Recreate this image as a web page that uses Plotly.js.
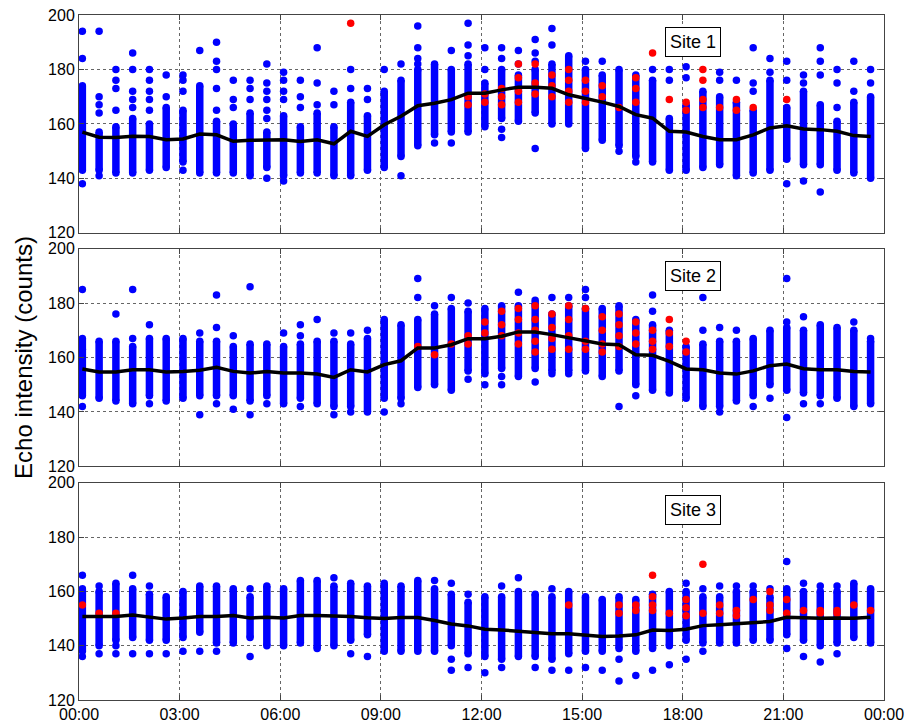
<!DOCTYPE html>
<html>
<head>
<meta charset="utf-8">
<script src="https://cdn.plot.ly/plotly-3.0.1.min.js"></script>
<style>
  html, body { margin: 0; padding: 0; background: #fff; }
  #chart { width: 908px; height: 725px; }
</style>
</head>
<body>
<div id="chart"></div>
<script>
// Half-hourly sample times (hours after midnight)
const colTimes = [0.1,0.6,1.1,1.6,2.1,2.6,3.1,3.6,4.1,4.6,5.1,5.6,6.1,6.6,7.1,7.6,
  8.1,8.6,9.1,9.6,10.1,10.6,11.1,11.6,12.1,12.6,13.1,13.6,14.1,14.6,15.1,15.6,
  16.1,16.6,17.1,17.6,18.1,18.6,19.1,19.6,20.1,20.6,21.1,21.6,22.1,22.6,23.1,23.6];

const xTickVals = [0,3,6,9,12,15,18,21,24];
const xTickText = ["00:00","03:00","06:00","09:00","12:00","15:00","18:00","21:00","00:00"];
const yTickVals = [120,140,160,180,200];
const siteNames = ["Site 1","Site 2","Site 3"];

// ---------- Site 1 ----------
const mean1 = [157,155.1,155,155.5,155.4,154.2,154.5,156.3,156,153.6,154,154,154.2,153.5,
  154.2,152.7,157.3,155.4,159.7,162.8,166.7,167.6,168.9,171.3,171.3,172.5,173.5,173.5,173.1,170.7,169.5,168,
  166.4,163.4,162.1,157.3,157,155.4,154.2,154.2,156,158.5,159.3,158.1,157.9,157.3,155.7,155.4];
const lo1 = [143,143,142,142,143,144,146,142,142,142,141,144,141,142,142,141,141,143,144,148,152,156,157,157,
  159,162,161,164,160,160,151,154,152,148,146,143,143,144,145,141,142,143,147,145,145,143,142,140];
const hi1 = [174,157,159,162,160,166,165,174,161,160,164,157,163,159,164,159,168,163,172,176,180,182,180,182,
  175,180,178,180,182,185,180,178,180,178,176,162,167,172,170,168,165,176,166,172,167,161,168,170];
const out1 = [[194,184,138],[194,170,167,164,141],[180,176,173,165],[186,180,172,169,166],[180,176,172,169,165],
  [178,170],[178,176,172,143],[187],[190,183,180,173,165],[176,169,166],[176,173,169],
  [182,175,172,169,165,162,140],[179,176,172,169,139],[176,170,166],[188,175,167],[172,167],[180,173],
  [173,169],[180],[182,141],[196,188,184,182],[153],[187,153],[197,189,185],[188,180],[188,184,158,155],
  [187,182],[191,186,183,151],[195,189],[],[183],[183],[150],[146],[180],[180,176],[181,177],[],[179,176],
  [176],[188,175,172],[184,179],[183,176,138],[178,175,139],[188,183,178,135],[180,175,166],[183,172],[180,175]];
const red1 = [[],[],[],[],[],[],[],[],[],[],[],[],[],[],[],[],[197],[],[],[],[],[],[],[170,167],[171,168],
  [173,170,167],[182,177,172,168],[182,175,171],[178,174,170],[180,176,172,168],[176,172,168],[174,170],
  [166],[177,173,168],[186],[169],[168,165],[180,176,169,166],[166],[169,165],[166],[],[169],[],[],[],[],[]];

// ---------- Site 2 ----------
const mean2 = [155.8,154.7,154.7,155.5,155.5,154.7,154.9,155.3,156.4,154.9,154.3,154.9,154.3,154.3,
  153.9,152.7,155.5,154.7,157.4,158.8,163.5,163.5,164.7,166.9,166.9,167.8,169.4,169.4,168.4,167.2,166.2,165,
  164.7,161,160.8,158.6,155.8,155.5,154.3,153.9,155.1,157,157.6,155.9,155.5,155.5,154.9,154.7];
const lo2 = [146,145,144,143,146,144,145,146,146,146,144,146,143,145,143,142,142,140,145,145,149,150,148,155,
  154,156,153,156,155,155,155,153,155,150,148,147,145,142,142,144,146,150,148,147,146,145,142,143];
const hi2 = [167,166,166,164,167,167,167,166,166,164,165,165,164,165,166,166,165,167,174,172,174,176,178,177,
  178,179,179,180,176,179,178,178,179,174,172,170,164,165,166,166,167,170,171,170,172,171,170,166];
const out2 = [[185,163,142],[],[176],[185,167],[172,143],[],[],[169,139],[183,171,143],[168,141],[186,139],[143],
  [169],[172,168,142],[174],[169,139],[169,140],[170],[140],[143],[189,182],[179],[182],[180,152],[150],
  [153,150],[184],[181,151],[182,154],[182,154],[185,182],[],[142],[146],[183,177],[],[],[182,170],[171,140],
  [170],[142],[145],[189,173,138],[175,143],[143],[],[173],[167]];
const red2 = [[],[],[],[],[],[],[],[],[],[],[],[],[],[],[],[],[],[],[],[],[164],[161],[165],[168,165],[173,169],
  [177,172,168],[178,174,169,165],[179,174,170,166,162],[176,171,167,163],[179,174,168,163],[178,166,163],
  [175,170,165,162],[176,172,168,164],[173,169,165],[170,166,163],[174,169,164],[166,162],
  [],[],[],[],[],[],[],[],[],[],[]];

// ---------- Site 3 ----------
const mean3 = [150.8,150.8,150.8,151.3,150.5,149.8,150.2,150.8,150.8,151.1,150.2,150.5,150.2,151.1,
  151.1,151.1,150.8,150.3,150,150.4,150.4,149.3,148,147.3,146.1,145.8,145.4,145,144.4,144.4,144,143.4,
  143.6,144,145.8,145.6,146.1,147.4,147.7,148,148.3,148.9,150.5,150.2,150.1,150.2,150.1,150.5];
const lo3 = [138,140,142,143,142,142,143,145,141,141,143,140,140,141,139,140,142,144,138,138,138,138,140,137,
  136,135,136,136,135,137,138,138,139,138,139,140,142,141,141,141,142,142,144,142,140,141,143,141];
const hi3 = [161,160,163,161,159,158,160,162,162,161,158,162,161,164,164,162,163,162,163,162,164,161,159,156,
  158,158,160,159,158,160,158,157,158,157,159,160,160,158,158,160,160,158,161,160,160,160,163,161];
const out3 = [[166,136],[162,137],[140,137],[166,137],[162,137],[137],[138],[138],[138],[],[161,136],[],[],[],
  [],[165],[137],[136],[],[],[],[164],[163,135,131],[159,132],[130],[162,132],[165],[132],[161,131],[131],
  [132],[131],[135,127],[129],[131],[133],[163,135],[161,138],[162],[162],[162],[161],[171,139],[163,136],
  [162,134],[162,137],[],[]];
const red3 = [[155],[152],[152],[],[],[],[],[],[],[],[],[],[],[],[],[],[],[],[],[],[],[],[],[],[],[],[],[],[],
  [155],[],[],[155,152],[155,153],[166,158,155,153],[152],[157,154,151],[170,152],[155,152],[153,151],[157],
  [160,155,153],[157,152],[153],[153,152],[153,152],[155],[153]];

const sites = [
  {mean: mean1, lo: lo1, hi: hi1, out: out1, red: red1},
  {mean: mean2, lo: lo2, hi: hi2, out: out2, red: red2},
  {mean: mean3, lo: lo3, hi: hi3, out: out3, red: red3}
];

const BLUE = "#0000ff", RED = "#ff0000";
const DOT = 7.5;
const traces = [];
const axisIds = [["x2","y"],["x3","y2"],["x","y3"]];

sites.forEach((s, k) => {
  const [xa, ya] = axisIds[k];
  // dense runs of samples drawn as thick vertical strokes
  const bx = [], by = [];
  colTimes.forEach((t, i) => { bx.push(t, t, null); by.push(s.lo[i], s.hi[i], null); });
  traces.push({type: "scatter", mode: "lines+markers", x: bx, y: by, xaxis: xa, yaxis: ya,
    line: {color: BLUE, width: DOT}, marker: {color: BLUE, size: DOT}, hoverinfo: "skip", showlegend: false});
  // individual samples
  const ox = [], oy = [];
  colTimes.forEach((t, i) => s.out[i].forEach(v => { ox.push(t); oy.push(v); }));
  traces.push({type: "scatter", mode: "markers", x: ox, y: oy, xaxis: xa, yaxis: ya,
    marker: {color: BLUE, size: DOT}, showlegend: false});
  // flagged samples
  const rx = [], ry = [];
  colTimes.forEach((t, i) => s.red[i].forEach(v => { rx.push(t); ry.push(v); }));
  traces.push({type: "scatter", mode: "markers", x: rx, y: ry, xaxis: xa, yaxis: ya,
    marker: {color: RED, size: DOT}, showlegend: false});
  // half-hourly mean
  traces.push({type: "scatter", mode: "lines", x: colTimes, y: s.mean, xaxis: xa, yaxis: ya,
    line: {color: "#000", width: 3.5}, showlegend: false});
});

const FONT = "Liberation Sans, Arial, Helvetica, sans-serif";
const axisLine = "#444";

function xAxis(anchor, labels) {
  return {
    anchor: anchor, range: [0, 24], tickvals: xTickVals, ticktext: xTickText,
    showticklabels: labels, ticks: "inside", ticklen: 5, tickcolor: axisLine,
    showline: true, linecolor: axisLine, linewidth: 1, mirror: "ticks",
    showgrid: true, gridcolor: "#666", griddash: "dot", gridwidth: 1,
    zeroline: false, tickfont: {family: FONT, size: 16, color: "#000"}
  };
}
function yAxis(domain, title) {
  const a = {
    domain: domain, range: [120, 200], tickvals: yTickVals,
    ticks: "inside", ticklen: 5, tickcolor: axisLine,
    showline: true, linecolor: axisLine, linewidth: 1, mirror: "ticks",
    showgrid: true, gridcolor: "#666", griddash: "dot", gridwidth: 1,
    zeroline: false, tickfont: {family: FONT, size: 16, color: "#000"}
  };
  if (title) a.title = {text: title, font: {family: FONT, size: 24, color: "#000"}, standoff: 8};
  return a;
}

const layout = {
  width: 908, height: 725,
  margin: {l: 79, r: 24, t: 15, b: 25},
  paper_bgcolor: "#fff", plot_bgcolor: "#fff",
  showlegend: false,
  xaxis: xAxis("y3", true),
  xaxis2: xAxis("y", false),
  xaxis3: xAxis("y2", false),
  yaxis: yAxis([0.682, 1], null),
  yaxis2: yAxis([0.341, 0.659], "Echo intensity (counts)"),
  yaxis3: yAxis([0, 0.317], null),
  annotations: siteNames.map((name, k) => ({
    text: name, xref: axisIds[k][0], yref: axisIds[k][1], x: 18.3, y: 190,
    showarrow: false, font: {family: FONT, size: 18, color: "#000"},
    bgcolor: "#fff", bordercolor: "#000", borderwidth: 1, borderpad: 4
  }))
};

Plotly.newPlot("chart", traces, layout, {staticPlot: true, displayModeBar: false});
</script>
</body>
</html>
